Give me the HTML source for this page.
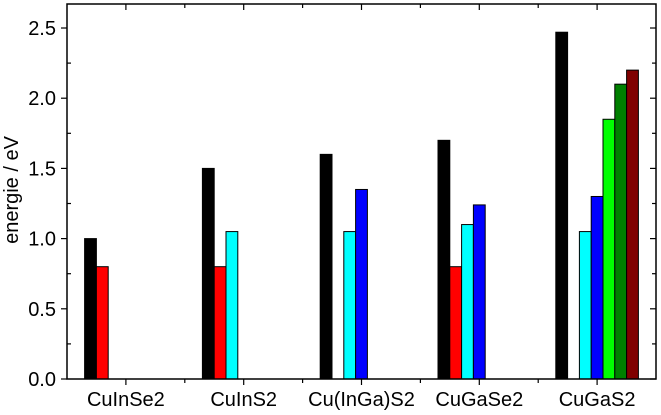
<!DOCTYPE html>
<html><head><meta charset="utf-8"><style>
html,body{margin:0;padding:0;background:#fff;}
svg{display:block;font-family:"Liberation Sans",Arial,sans-serif;}
</style></head><body>
<svg id="chart" width="661" height="415"></svg>
<script>
const categories = ["CuInSe2","CuInS2","Cu(InGa)S2","CuGaSe2","CuGaS2"];
const seriesBlack = [1.0, 1.5, 1.6, 1.7, 2.47];
const seriesRed = [0.8, 0.8, null, 0.8, null];
const seriesCyan = [null, 1.05, 1.05, 1.1, 1.05];
const seriesBlue = [null, null, 1.35, 1.24, 1.3];
const seriesLime = [null, null, null, null, 1.85];
const seriesGreen = [null, null, null, null, 2.1];
const seriesDarkRed = [null, null, null, null, 2.2];
const yTicks = ["0.0","0.5","1.0","1.5","2.0","2.5"];

const NS="http://www.w3.org/2000/svg";
const svg=document.getElementById('chart');
const L=67,R=656,T=4,B=379,yMax=2.671;
const band=(R-L)/categories.length, barW=11.8;
function y(v){return B-(v/yMax)*(B-T);}
function xc(i){return L+band*(i+0.5);}
function mk(tag,attrs){const e=document.createElementNS(NS,tag);for(const k in attrs)e.setAttribute(k,attrs[k]);svg.appendChild(e);return e;}

const series=[[seriesBlack,"#000000","black"],[seriesRed,"#ff0000","red"],[seriesCyan,"#00ffff","cyan"],[seriesBlue,"#0000ff","blue"],[seriesLime,"#00ff00","lime"],[seriesGreen,"#008000","green"],[seriesDarkRed,"#800000","darkred"]];
const nS=series.length;
series.forEach((s,si)=>{
  s[0].forEach((v,ci)=>{
    if(v===null)return;
    const x=xc(ci)-nS*barW/2+si*barW;
    const r=mk('rect',{x:x,y:y(v),width:barW,height:B-y(v),fill:s[1],stroke:'#000','stroke-width':1});
    
    
  });
});

const fr=mk('rect',{x:L,y:T,width:R-L,height:B-T,fill:'none',stroke:'#000','stroke-width':1.5});



for(let k=0;k<=10;k++){
  const v=k*0.25, yy=y(v), major=k%2===0;
  mk('line',{x1:major?L-6:L,x2:major?L:L+4,y1:yy,y2:yy,stroke:'#000','stroke-width':1.2});
  mk('line',{x1:R,x2:R-(major?6:4),y1:yy,y2:yy,stroke:'#000','stroke-width':1.2});
}
yTicks.forEach(t=>{
  const tx=mk('text',{x:L-11,y:y(parseFloat(t))+7,'text-anchor':'end','font-size':20,fill:'#000'});
  tx.textContent=t;
  
  
});
categories.forEach((c,i)=>{
  const x=xc(i);
  mk('line',{x1:x,x2:x,y1:B,y2:B+6,stroke:'#000','stroke-width':1.2});
  mk('line',{x1:x,x2:x,y1:T,y2:T+6,stroke:'#000','stroke-width':1.2});
  const bx=L+band*i;
  if(i>0){
    mk('line',{x1:bx,x2:bx,y1:B,y2:B+4,stroke:'#000','stroke-width':1.2});
    mk('line',{x1:bx,x2:bx,y1:T,y2:T+4,stroke:'#000','stroke-width':1.2});
  }
  const tx=mk('text',{x:x,y:B+27,'text-anchor':'middle','font-size':20,fill:'#000'});
  tx.textContent=c;
  
  
});
const yt=mk('text',{x:0,y:0,transform:'translate(18,190) rotate(-90)','text-anchor':'middle','font-size':20,fill:'#000'});
yt.textContent='energie / eV';


</script>
</body></html>
